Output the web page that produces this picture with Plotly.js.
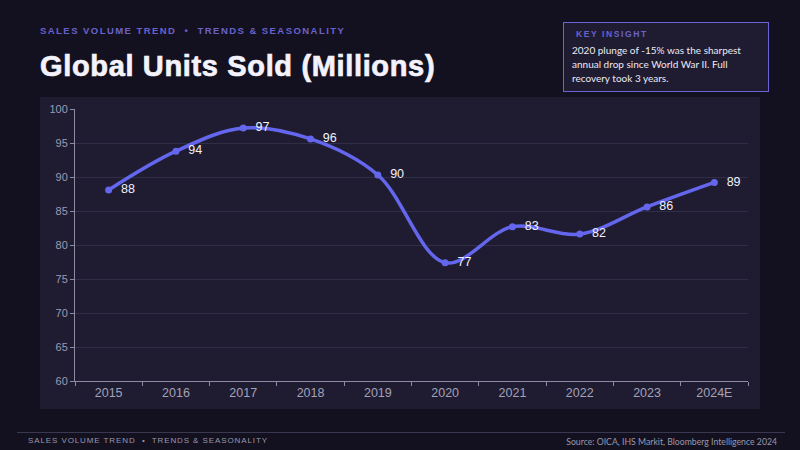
<!DOCTYPE html>
<html>
<head>
<meta charset="utf-8">
<script src="https://cdn.plot.ly/plotly-3.0.1.min.js"></script>
<style>
  html, body { margin: 0; padding: 0; }
  body { width: 800px; height: 450px; background: #13111f; position: relative; overflow: hidden;
         font-family: "Liberation Sans", Arial, sans-serif; }
  .kicker { position: absolute; left: 40px; top: 25px; font-size: 9.5px; font-weight: bold;
            letter-spacing: 1.45px; color: #6a62cc; }
  .title { position: absolute; left: 40px; top: 50px; font-size: 29px; font-weight: bold; color: #f4f2fb;
           letter-spacing: 0.65px; -webkit-text-stroke: 0.7px #f4f2fb; }
  .insight { position: absolute; left: 563px; top: 22px; width: 204px; height: 68px;
             border: 1.5px solid #6c63d6; background: #1f1c31; }
  .insight .label { position: absolute; left: 12px; top: 6px; font-size: 8.5px; font-weight: bold;
                    letter-spacing: 1.6px; color: #6a62cc; }
  .insight .body { position: absolute; left: 8px; top: 20px; width: 195px; font-family: Lato, sans-serif;
                   font-size: 10px; line-height: 14px; color: #eceaf5; }
  #chart { position: absolute; left: 40px; top: 97px; width: 720px; height: 312px; }
  .rule { position: absolute; left: 17px; top: 432px; width: 768px; height: 1px; background: #3a3750; }
  .foot { position: absolute; top: 436px; font-size: 8px; color: #9a98ad; }
  .foot.left { left: 28px; letter-spacing: 0.9px; }
  .foot.right { right: 23px; font-family: Lato, sans-serif; font-size: 8.7px; }
</style>
</head>
<body>
<div class="kicker">SALES VOLUME TREND &nbsp;•&nbsp; TRENDS &amp; SEASONALITY</div>
<div class="title">Global Units Sold (Millions)</div>
<div class="insight">
  <div class="label">KEY INSIGHT</div>
  <div class="body">2020 plunge of -15% was the sharpest annual drop since World War II. Full recovery took 3 years.</div>
</div>
<div id="chart"></div>
<div class="rule"></div>
<div class="foot left">SALES VOLUME TREND &nbsp;•&nbsp; TRENDS &amp; SEASONALITY</div>
<div class="foot right">Source: OICA, IHS Markit, Bloomberg Intelligence 2024</div>
<script>
"use strict";

var years = ["2015", "2016", "2017", "2018", "2019", "2020", "2021", "2022", "2023", "2024E"];
var unitsSold = [88.1, 93.8, 97.2, 95.6, 90.3, 77.4, 82.7, 81.6, 85.6, 89.2];
var yTicks = [60, 65, 70, 75, 80, 85, 90, 95, 100];

var lineColor = "#6467ee";

var data = [{
    x: years,
    y: unitsSold,
    type: "scatter",
    mode: "lines+markers+text",
    line: {color: lineColor, width: 3.5, shape: "spline", smoothing: 1},
    marker: {color: lineColor, size: 7},
    texttemplate: "\u00a0\u00a0%{y:.0f}",   // push the labels a bit off the points
    textposition: "middle right",
    textfont: {family: "Liberation Sans, Arial, sans-serif", size: 12.5, color: "#f2f0fa"},
    hoverinfo: "none",
    cliponaxis: false
}];

var layout = {
    width: 720,
    height: 312,
    margin: {l: 35, r: 12, t: 12, b: 28},
    paper_bgcolor: "#1f1c31",
    plot_bgcolor: "#1f1c31",
    showlegend: false,
    font: {family: "Liberation Sans, Arial, sans-serif", color: "#9d9bb2"},
    xaxis: {
        type: "category",
        range: [-0.5, 9.5],
        tickson: "boundaries",
        ticks: "outside",
        ticklen: 4,
        tickcolor: "#8d8ba3",
        showline: true,
        linecolor: "#8d8ba3",
        linewidth: 1,
        showgrid: false,
        tickfont: {size: 12.5, color: "#a3a1b8"},
        fixedrange: true
    },
    yaxis: {
        range: [60, 100],
        tickvals: yTicks,
        ticks: "outside",
        ticklen: 4,
        tickcolor: "#8d8ba3",
        showline: true,
        linecolor: "#8d8ba3",
        linewidth: 1,
        gridcolor: "#302d47",
        gridwidth: 1,
        zeroline: false,
        tickfont: {size: 11, color: "#9d9bb2"},
        fixedrange: true
    }
};

Plotly.newPlot("chart", data, layout, {displayModeBar: false, staticPlot: true});
</script>
</body>
</html>
